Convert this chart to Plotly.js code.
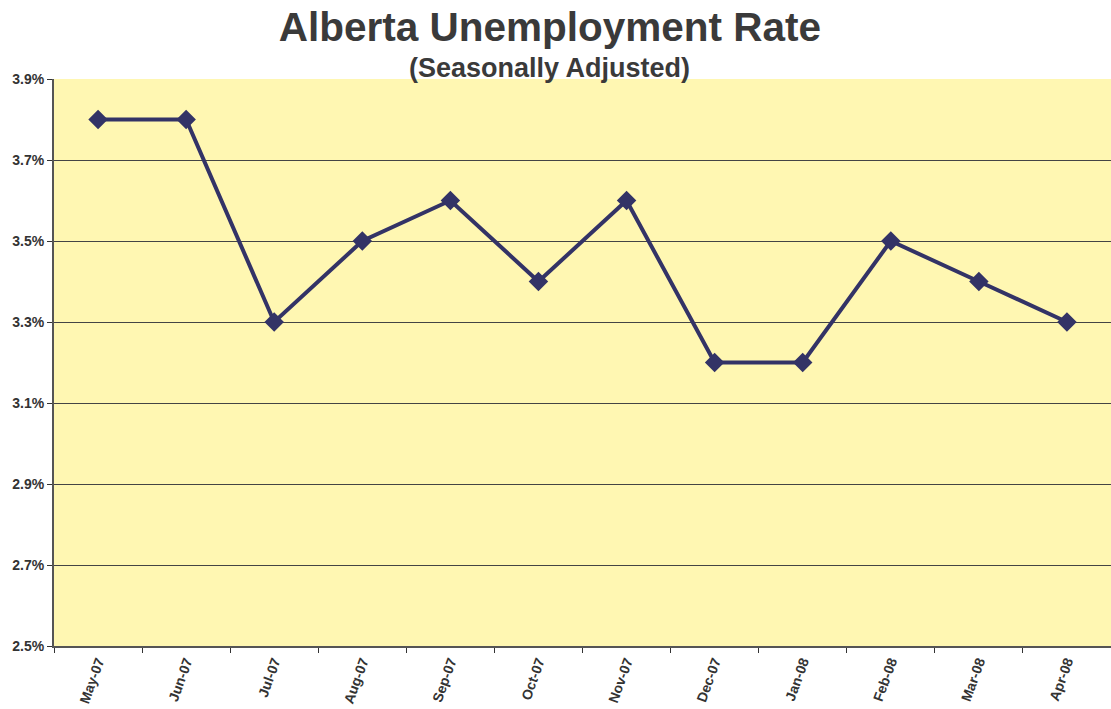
<!DOCTYPE html>
<html><head><meta charset="utf-8">
<script src="https://cdn.plot.ly/plotly-3.0.1.min.js"></script>
<style>html,body{margin:0;padding:0;background:#fff}#chart{width:1111px;height:709px}</style>
</head><body><div id="chart"></div>
<script>
const months = ["May-07","Jun-07","Jul-07","Aug-07","Sep-07","Oct-07","Nov-07","Dec-07","Jan-08","Feb-08","Mar-08","Apr-08"];
const rates = [3.8,3.8,3.3,3.5,3.6,3.4,3.6,3.2,3.2,3.5,3.4,3.3];
const yTicks = [2.5,2.7,2.9,3.1,3.3,3.5,3.7,3.9];
const yTickText = yTicks.map(v => v.toFixed(1) + "%");

const trace = {
  x: months, y: rates, type: "scatter", mode: "lines+markers",
  line: {color: "#333366", width: 4},
  marker: {symbol: "diamond", size: 15, color: "#333366"},
  hoverinfo: "skip"
};
const layout = {
  width: 1111, height: 709,
  margin: {l: 54, r: 0, t: 79, b: 63},
  paper_bgcolor: "#ffffff", plot_bgcolor: "#FFF7B2",
  showlegend: false,
  font: {family: "Liberation Sans, Arial, sans-serif", color: "#333333"},
  title: {text: "<b>Alberta Unemployment Rate</b>", x: 0.495, xanchor: "center", y: 0.962, yanchor: "middle",
          font: {size: 40.5, color: "#3a3a3a", family: "Liberation Sans, Arial, sans-serif"}},
  annotations: [{text: "<b>(Seasonally Adjusted)</b>", xref: "paper", yref: "paper", x: 0.469, y: 1, xanchor: "center", yanchor: "bottom",
    yshift: -6, showarrow: false, font: {size: 27, color: "#3a3a3a", family: "Liberation Sans, Arial, sans-serif"}}],
  xaxis: {type: "category", range: [-0.5, 11.5], tickson: "boundaries", ticks: "outside", ticklen: 5, tickcolor: "#333333",
    showline: true, linecolor: "#555555", linewidth: 2, showgrid: false, tickangle: -70,
    tickfont: {size: 14, color: "#333333", family: "Liberation Sans, Arial, sans-serif", weight: "bold"}, fixedrange: true},
  yaxis: {range: [2.5, 3.9], tickvals: yTicks, ticktext: yTickText, ticks: "outside", ticklen: 5, tickcolor: "#333333",
    showline: true, linecolor: "#555555", linewidth: 2, showgrid: true, gridcolor: "#444444", gridwidth: 1, zeroline: false,
    tickfont: {size: 14, color: "#333333", family: "Liberation Sans, Arial, sans-serif", weight: "bold"}, fixedrange: true}
};
Plotly.newPlot("chart", [trace], layout, {displayModeBar: false, staticPlot: true});
</script></body></html>
